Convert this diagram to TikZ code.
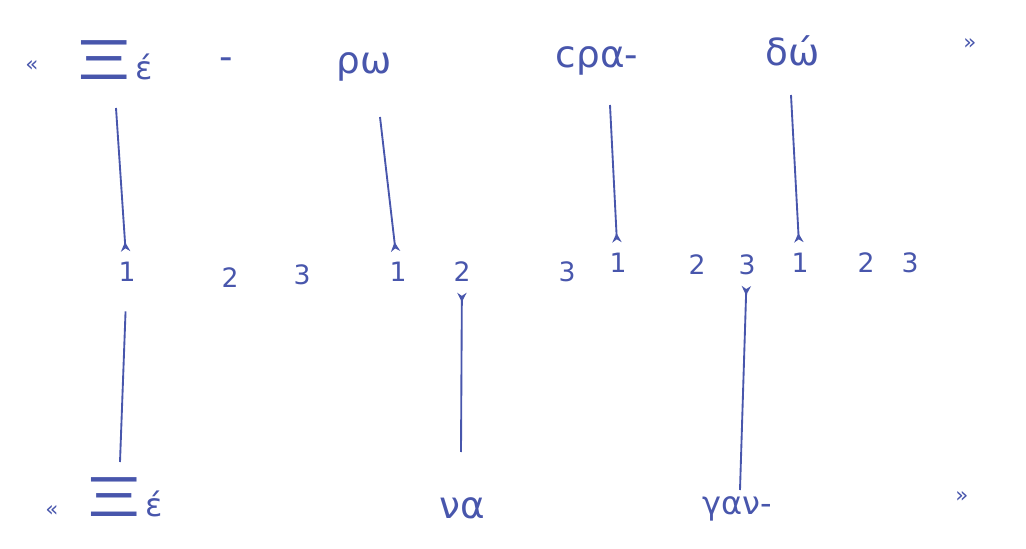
\documentclass[tikz,border=0pt]{standalone}
\usepackage{fontspec}
\setmainfont{DejaVu Sans}
\usepackage{graphicx}
\usetikzlibrary{arrows.meta}
\definecolor{ink}{RGB}{72,86,172}
\newcommand{\bigXi}{{\fontsize{40}{40}\selectfont\scalebox{1.9}[1]{Ξ}}}
\begin{document}
\begin{tikzpicture}[x=0.75pt,y=-0.75pt,
  word/.style={text=ink, font=\fontsize{28}{30}\selectfont, inner sep=1pt, anchor=base},
  quote/.style={text=ink, font=\fontsize{16}{16}\selectfont, inner sep=1pt, anchor=base},
  num/.style={text=ink, font=\fontsize{20}{22}\selectfont, inner sep=2pt},
  link/.style={draw=ink, line width=1.4pt},
  uplink/.style={link, -{Stealth[reversed, length=7pt, width=7pt]}, shorten >=6pt},
  downlink/.style={link, {Stealth[reversed, length=7pt, width=7pt]}-, shorten <=6pt},
  plainlink/.style={link}]
\useasboundingbox (0,0) rectangle (1026,549);
% top line
\node[quote] (lqT) at (32,72) {«};
\node[word, anchor=base west] (xeT) at (70,80) {\bigXi{\fontsize{24}{24}\selectfont έ}};
\node[word] (dash) at (226,70) {-};
\node[word] (rho) at (364,74) {ρω};
\node[word] (spa) at (597,68) {ϲρα-};
\node[word] (dho) at (793,66) {δώ};
\node[quote] (rqT) at (970,50) {»};
% numbers
\node[num] (n1a) at (127,272) {1};
\node[num] (n2a) at (230,278) {2};
\node[num] (n3a) at (302,275) {3};
\node[num] (n1b) at (398,272) {1};
\node[num] (n2b) at (462,272) {2};
\node[num] (n3b) at (567,272) {3};
\node[num] (n1c) at (618,263) {1};
\node[num] (n2c) at (697,265) {2};
\node[num] (n3c) at (747,265) {3};
\node[num] (n1d) at (800,263) {1};
\node[num] (n2d) at (866,263) {2};
\node[num] (n3d) at (910,263) {3};
% bottom line
\node[quote] (lqB) at (52,516) {«};
\node[word, anchor=base west] (xeB) at (80,516) {\bigXi{\fontsize{24}{24}\selectfont έ}};
\node[word] (na) at (462,518) {να};
\node[word, font=\fontsize{24}{26}\selectfont] (gan) at (737,514) {γαν-};
\node[quote] (rqB) at (962,502) {»};
% free ends of the connectors
\coordinate (t1) at (116,108);
\coordinate (t2) at (380,117);
\coordinate (t3) at (610,105);
\coordinate (t4) at (791,95);
\coordinate (b1) at (120,462);
\coordinate (b2) at (461,452);
\coordinate (b3) at (740,490);
% connectors
\draw[uplink] (t1) -- (n1a);
\draw[uplink] (t2) -- (n1b);
\draw[uplink] (t3) -- (n1c);
\draw[uplink] (t4) -- (n1d);
\draw[plainlink, shorten <=20pt] (n1a) -- (b1);
\draw[downlink] (n2b) -- (b2);
\draw[downlink] (n3c) -- (b3);
\end{tikzpicture}
\end{document}
